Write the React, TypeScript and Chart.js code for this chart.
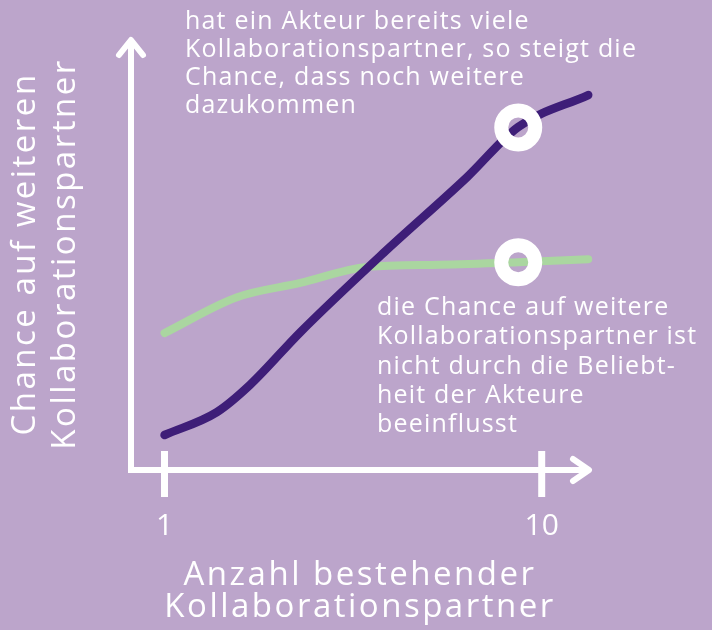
import { useEffect, useRef } from "react";
import { Chart, registerables } from "chart.js";

Chart.register(...registerables);

// ---- data ----
const xTickValues = [1, 10];
const xTickLabels = ["1", "10"];

const preferentialX = [1.0, 2.25, 3.04, 4.24, 6.22, 8.22, 9.44, 11.11];
const preferentialY = [8.1, 13.4, 19.7, 31.9, 50.2, 67.8, 79.4, 86.8];

const randomX = [1.0, 2.73, 4.24, 5.83, 7.57, 9.44, 11.11];
const randomY = [31.7, 40.0, 43.3, 47.0, 47.5, 48.1, 48.8];

const markerX = [9.44, 9.44];
const markerY = [79.3, 48.1];

const topNote = [
  "hat ein Akteur bereits viele",
  "Kollaborationspartner, so steigt die",
  "Chance, dass noch weitere",
  "dazukommen",
];
const rightNote = [
  "die Chance auf weitere",
  "Kollaborationspartner ist",
  "nicht durch die Beliebt-",
  "heit der Akteure",
  "beeinflusst",
];
const xTitle = ["Anzahl bestehender", "Kollaborationspartner"];
const yTitle = ["Chance auf weiteren", "Kollaborationspartner"];

// ---- styles ----
const BG = "#bca5cb";
const DARK = "#3e1e78";
const GREEN = "#aad6a0";
const WHITE = "#ffffff";
const FONT = "'Open Sans', sans-serif";

const decorPlugin = {
  id: "decor",
  beforeDatasetsDraw(chart: any) {
    const { ctx, chartArea, scales } = chart;
    const x = scales.x;
    ctx.save();
    ctx.strokeStyle = WHITE;
    ctx.lineWidth = 6;
    ctx.lineJoin = "round";
    const left = chartArea.left;
    const bottom = chartArea.bottom;
    // y axis
    ctx.lineCap = "butt";
    ctx.beginPath();
    ctx.moveTo(left, bottom + 3);
    ctx.lineTo(left, chartArea.top + 2);
    ctx.stroke();
    // x axis
    ctx.beginPath();
    ctx.moveTo(left - 3, bottom);
    ctx.lineTo(chartArea.right - 2, bottom);
    ctx.stroke();
    // arrow heads
    ctx.lineCap = "round";
    ctx.beginPath();
    ctx.moveTo(left - 12, chartArea.top + 17);
    ctx.lineTo(left, chartArea.top + 2);
    ctx.lineTo(left + 12, chartArea.top + 17);
    ctx.stroke();
    ctx.beginPath();
    ctx.moveTo(chartArea.right - 19, bottom - 11);
    ctx.lineTo(chartArea.right - 3, bottom);
    ctx.lineTo(chartArea.right - 19, bottom + 11);
    ctx.stroke();
    // tick marks
    ctx.lineCap = "butt";
    ctx.lineWidth = 7;
    xTickValues.forEach((v) => {
      const px = x.getPixelForValue(v);
      ctx.beginPath();
      ctx.moveTo(px, bottom - 19);
      ctx.lineTo(px, bottom + 27);
      ctx.stroke();
    });
    ctx.restore();
  },
  afterDraw(chart: any) {
    const { ctx, chartArea, scales } = chart;
    const x = scales.x;
    ctx.save();
    ctx.fillStyle = WHITE;
    ctx.textBaseline = "alphabetic";
    // tick labels
    ctx.font = `30px ${FONT}`;
    ctx.textAlign = "center";
    xTickValues.forEach((v, i) => {
      ctx.fillText(xTickLabels[i], x.getPixelForValue(v), chartArea.bottom + 65);
    });
    // notes
    ctx.textAlign = "left";
    ctx.font = `25px ${FONT}`;
    (ctx as any).letterSpacing = "1.2px";
    topNote.forEach((t, i) => ctx.fillText(t, 185, 29 + i * 28));
    rightNote.forEach((t, i) => ctx.fillText(t, 377, 315 + i * 29.3));
    // x title
    ctx.font = `33px ${FONT}`;
    (ctx as any).letterSpacing = "2.5px";
    ctx.textAlign = "center";
    xTitle.forEach((t, i) => ctx.fillText(t, 360, 585 + i * 32));
    // y title
    ctx.save();
    ctx.translate(0, 254);
    ctx.rotate(-Math.PI / 2);
    yTitle.forEach((t, i) => ctx.fillText(t, 0, 35 + i * 40));
    ctx.restore();
    ctx.restore();
  },
};

export default function App() {
  const canvasRef = useRef<HTMLCanvasElement | null>(null);

  useEffect(() => {
    document.body.style.margin = "0";
    document.body.style.background = BG;
    const canvas = canvasRef.current;
    if (!canvas) return;
    const chart = new Chart(canvas, {
      type: "line",
      data: {
        datasets: [
          {
            label: "marker",
            data: markerX.map((v, i) => ({ x: v, y: markerY[i] })),
            showLine: false,
            pointRadius: 17,
            pointBorderWidth: 14,
            pointBorderColor: WHITE,
            pointBackgroundColor: "rgba(0,0,0,0)",
            order: 0,
            clip: false as any,
          },
          {
            label: "preferential",
            data: preferentialX.map((v, i) => ({ x: v, y: preferentialY[i] })),
            borderColor: DARK,
            borderWidth: 8.5,
            borderCapStyle: "round",
            borderJoinStyle: "round",
            pointRadius: 0,
            cubicInterpolationMode: "monotone",
            order: 1,
            clip: false as any,
          },
          {
            label: "random",
            data: randomX.map((v, i) => ({ x: v, y: randomY[i] })),
            borderColor: GREEN,
            borderWidth: 8,
            borderCapStyle: "round",
            borderJoinStyle: "round",
            pointRadius: 0,
            cubicInterpolationMode: "monotone",
            order: 2,
            clip: false as any,
          },
        ],
      },
      options: {
        animation: false,
        responsive: false,
        devicePixelRatio: 1,
        layout: { padding: { left: 131, top: 38, right: 120, bottom: 160 } },
        plugins: { legend: { display: false }, tooltip: { enabled: false } },
        events: [],
        scales: {
          x: { type: "linear", min: 0.2, max: 11.2, display: false },
          y: { type: "linear", min: 0, max: 100, display: false },
        },
      },
      plugins: [decorPlugin],
    });
    return () => chart.destroy();
  }, []);

  return (
    <div style={{ width: 712, height: 630, background: BG }}>
      <canvas ref={canvasRef} width={712} height={630} style={{ display: "block" }} />
    </div>
  );
}
